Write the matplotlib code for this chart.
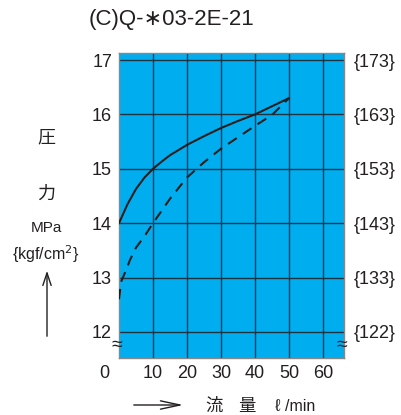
import numpy as np
import matplotlib
matplotlib.use('Agg')
import matplotlib.pyplot as plt

plt.rcParams['font.family'] = ['Liberation Sans', 'Noto Sans CJK JP', 'DejaVu Sans']

# flow (l/min) vs pressure (MPa)
flow_solid = [0, 2.5, 5, 7.5, 10, 12.5, 15, 20, 25, 30, 35, 40, 45, 50]
press_solid = [14.0, 14.35, 14.63, 14.84, 15.0, 15.13, 15.25, 15.44, 15.6, 15.75, 15.88, 16.0, 16.15, 16.3]
flow_dash = [0, 0.6, 2.3, 3.2, 5, 7.5, 10, 15, 20, 25, 30, 35, 40, 45, 50]
press_dash = [12.6, 12.92, 13.17, 13.32, 13.55, 13.76, 14.0, 14.45, 14.84, 15.12, 15.37, 15.58, 15.79, 15.99, 16.3]

x_ticks = [10, 20, 30, 40, 50, 60]
y_ticks = [12, 13, 14, 15, 16, 17]
right_labels = ['{122}', '{133}', '{143}', '{153}', '{163}', '{173}']

ink = '#231f20'
fig = plt.figure(figsize=(4.02, 4.15), dpi=100)
ax = fig.add_axes([119/402, 1-358/415, 225/402, 305/415])
ax.set_facecolor('#00aeef')
ax.set_xlim(0, 66.2)
ax.set_ylim(11.52, 17.13)

for x in x_ticks:
    ax.axvline(x, color='#1f3340', lw=1.0, zorder=1)
for y in y_ticks:
    ax.axhline(y, color='#1f3340', lw=1.0, zorder=1)

ax.plot(flow_solid, press_solid, color=ink, lw=1.5, zorder=3)
ax.plot(flow_dash, press_dash, color=ink, lw=1.5, dashes=(5, 3.5), zorder=3)

for s in ax.spines.values():
    s.set_color('#888888')
    s.set_linewidth(1.0)

ax.set_xticks(x_ticks)
ax.set_xticklabels([str(v) for v in x_ticks], fontsize=13, color=ink)
ax.set_yticks(y_ticks)
ax.set_yticklabels([str(v) for v in y_ticks], fontsize=13, color=ink)
ax.tick_params(length=0, pad=5)

ax2 = ax.twinx()
ax2.set_ylim(ax.get_ylim())
ax2.set_yticks(y_ticks)
ax2.set_yticklabels(right_labels, fontsize=13, color=ink)
ax2.tick_params(length=0, pad=7)
for s in ax2.spines.values():
    s.set_visible(False)

# break marks
fig.text(117/402, 1-345/415, '≈', fontsize=14, ha='center', va='center', color=ink)
fig.text(342/402, 1-345/415, '≈', fontsize=14, ha='center', va='center', color=ink)

fig.text(104/402, 1-373/415, '0', fontsize=13, ha='center', va='center', color=ink)

fig.text(89/402, 1-20/415, '(C)Q-∗03-2E-21', fontsize=16, ha='left', va='center', color=ink)

fig.text(46/402, 1-138/415, '圧', fontsize=13, ha='center', va='center', color=ink)
fig.text(46/402, 1-194/415, '力', fontsize=13, ha='center', va='center', color=ink)
fig.text(46/402, 1-228/415, 'MPa', fontsize=11, ha='center', va='center', color=ink)
fig.text(46/402, 1-254/415, '{kgf/cm$^2$}', fontsize=11.5, ha='center', va='center', color=ink)
fig.patches.append(matplotlib.patches.FancyArrowPatch(
    (47/402, 1-339/415), (47/402, 1-268/415), transform=fig.transFigure,
    arrowstyle='->,head_length=9,head_width=3', color=ink, lw=1.0))
fig.patches.append(matplotlib.patches.FancyArrowPatch(
    (131/402, 1-405/415), (186/402, 1-405/415), transform=fig.transFigure,
    arrowstyle='->,head_length=14,head_width=3', color=ink, lw=1.0))

fig.text(205/402, 1-406/415, '流', fontsize=12.5, ha='left', va='center', color=ink)
fig.text(238/402, 1-406/415, '量', fontsize=12.5, ha='left', va='center', color=ink)
fig.text(275/402, 1-406/415, 'ℓ', fontsize=12.5, ha='left', va='center', color=ink)
fig.text(285/402, 1-406/415, '/min', fontsize=11.5, ha='left', va='center', color=ink)

fig.savefig('out.png', dpi=100)
